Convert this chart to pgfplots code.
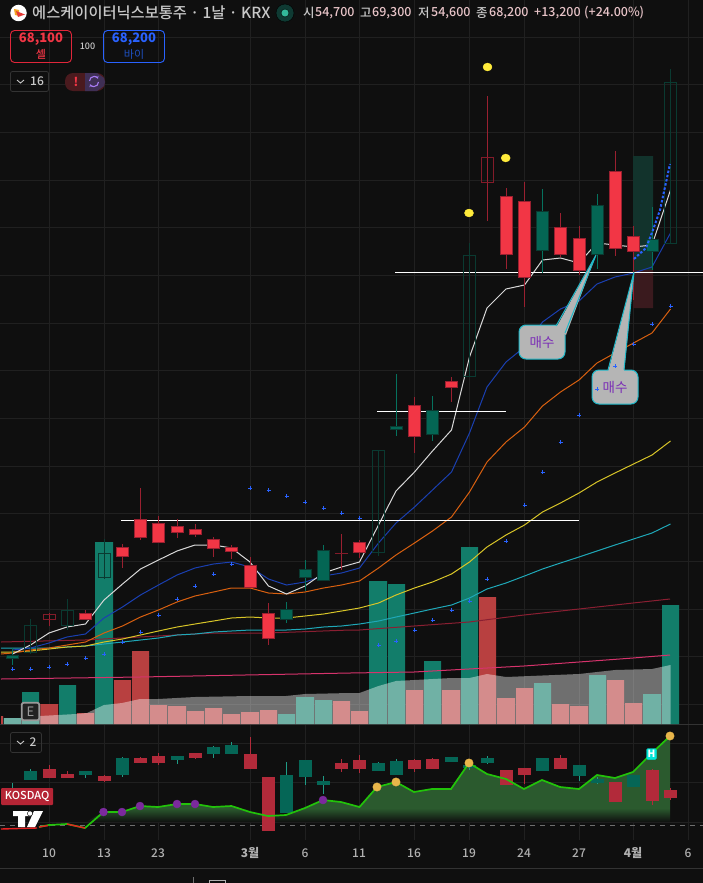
\documentclass[border=0pt]{standalone}
\usepackage{pgfplots}
\pgfplotsset{compat=1.18}
\usetikzlibrary{arrows.meta}
\usepackage{fontspec}
\setmainfont{Noto Sans CJK KR}
\newfontfamily\med{Noto Sans CJK KR}[UprightFont=* Medium]
\definecolor{bg}{HTML}{0F0F0F}
\definecolor{gridc}{HTML}{202020}
\definecolor{upf}{HTML}{F23645}
\definecolor{upe}{HTML}{9A2030}
\definecolor{dnf}{HTML}{046654}
\definecolor{dne}{HTML}{0A3A31}
\definecolor{dnw}{HTML}{05725E}
\definecolor{lr}{HTML}{B22A3A}
\definecolor{lg}{HTML}{056656}
\definecolor{lgw}{HTML}{1F9C86}
\definecolor{volg}{HTML}{127D6A}
\definecolor{volr}{HTML}{B84040}
\definecolor{areag}{HTML}{2B5A2E}
\definecolor{txtc}{HTML}{C8C8C8}
\definecolor{pnk}{HTML}{E8C4C8}
\definecolor{tickc}{HTML}{B0B0B0}
\definecolor{cal}{HTML}{B5B5B5}
\definecolor{calb}{HTML}{1FB8C8}
\definecolor{calt}{HTML}{7B2FB5}
\definecolor{HTMLteal}{HTML}{12332C}
\definecolor{HTMLmar}{HTML}{3A1A1E}
\definecolor{HTMLdr}{HTML}{8A1F32}
\definecolor{HTMLpk}{HTML}{D6336C}
\definecolor{HTMLcy}{HTML}{1FA8B8}
\definecolor{HTMLye}{HTML}{D8C528}
\definecolor{HTMLor}{HTML}{D9600F}
\definecolor{HTMLbl}{HTML}{1A3FB0}
\definecolor{HTMLwh}{HTML}{D8D8D8}
\definecolor{HTMLcr}{HTML}{2962FF}
\definecolor{HTMLbd}{HTML}{2962FF}
\definecolor{HTMLyd}{HTML}{FFEB3B}
\definecolor{HTMLdg}{HTML}{6E6E6E}
\definecolor{HTMLgl}{HTML}{22C30A}
\definecolor{HTMLrl}{HTML}{E62222}
\definecolor{HTMLpd}{HTML}{7B2A9D}
\definecolor{HTMLod}{HTML}{E8B54A}
\definecolor{HTMLhb}{HTML}{00E5D8}
\definecolor{HTMLkq}{HTML}{B52535}
\definecolor{HTMLeb}{HTML}{222222}
\definecolor{HTMLeg}{HTML}{9A9A9A}
\definecolor{HTMLoo}{HTML}{F5A623}
\definecolor{HTMLrd}{HTML}{E53935}
\definecolor{HTMLsd}{HTML}{0F3A33}
\definecolor{HTMLsg}{HTML}{33B89A}
\definecolor{HTMLbr}{HTML}{E0263A}
\definecolor{HTMLbu}{HTML}{2962FF}
\definecolor{HTMLbv}{HTML}{1E50C0}
\definecolor{HTMLbx}{HTML}{333333}
\definecolor{HTMLp1}{HTML}{4A1A1E}
\definecolor{HTMLp2}{HTML}{3F2F55}
\definecolor{HTMLp3}{HTML}{A77BF3}
\pgfdeclareverticalshading{areafade}{100bp}{color(0bp)=(bg); color(25bp)=(bg); color(33bp)=(areag); color(100bp)=(areag)}
% candle: x, high, low, top, bottom
\newcommand\candle[8]{%
 \pgfmathsetmacro\xl{#1-#8}\pgfmathsetmacro\xr{#1+#8}%
 \edef\temp{\noexpand\addplot[#7,line width=1pt] coordinates {(#1,#2)(#1,#3)};
  \noexpand\addplot[#6,line width=1pt] coordinates {(\xl,#4)(\xr,#4)(\xr,#5)(\xl,#5)(\xl,#4)};}\temp}
\newcommand\Cr[5]{\candle{#1}{#2}{#3}{#4}{#5}{fill=upf,draw=upe}{upe}{6}}
\newcommand\Cg[5]{\candle{#1}{#2}{#3}{#4}{#5}{fill=dnf,draw=dne}{dnw}{6}}
\newcommand\Hr[5]{\candle{#1}{#2}{#3}{#4}{#5}{draw=upe!85!black}{upe}{6}}
\newcommand\Hg[5]{\candle{#1}{#2}{#3}{#4}{#5}{draw=dne}{dne}{6}}
\newcommand\Lr[5]{\candle{#1}{#2}{#3}{#4}{#5}{fill=lr,draw=lr}{lr}{6}}
\newcommand\Lg[5]{\candle{#1}{#2}{#3}{#4}{#5}{fill=lg,draw=lg}{lgw}{6}}
% volume bar: x-left, x-right, top
\newcommand\V[4]{\addplot[fill=#4,draw=none] coordinates {(#1,#3)(#2,#3)(#2,724)(#1,724)(#1,#3)};}
\newcommand\Poly[2]{\addplot[#1] coordinates {#2};}
\newcommand\T[5][]{\node[text=#2,anchor=#3,inner sep=0pt,#1] at (axis cs:#4) {#5};}
\begin{document}
\begin{tikzpicture}
\begin{axis}[scale only axis,width=703pt,height=883pt,
 xmin=0,xmax=703,ymin=0,ymax=883,y dir=reverse,
 axis lines=none,ticks=none,clip=true,
 every axis plot/.append style={mark=none}]
% background
\Poly{fill=bg,draw=none}{(0,0)(703,0)(703,883)(0,883)(0,0)}
% grid
\pgfplotsinvokeforeach{37,84,132,180,227,275,323,370,418,466,513,561,609,656,704,743,782,822}{
 \addplot[gridc,line width=.8pt] coordinates {(0,#1)(703,#1)};}
\pgfplotsinvokeforeach{49,104,158,250,305,359,414,469,524,579,633,688}{
 \addplot[gridc,line width=.8pt] coordinates {(#1,0)(#1,724)};
 \addplot[gridc,line width=.8pt] coordinates {(#1,725)(#1,840)};}
\addplot[HTMLbx,line width=.8pt] coordinates {(0,724.5)(703,724.5)};
\addplot[HTMLbx,line width=.8pt] coordinates {(0,868)(703,868)};
% long position boxes
\Poly{fill=HTMLteal,draw=none}{(633,156)(653,156)(653,270)(633,270)(633,156)}
\Poly{fill=HTMLmar,draw=none}{(633,270)(653,270)(653,308)(633,308)(633,270)}
% volume bars
\V{1}{3}{716}{volr}
\V{3.7}{21}{718}{volg}\V{22}{39}{692}{volg}\V{40.3}{58}{704}{volr}\V{59}{76}{685}{volg}
\V{77}{94}{713}{volr}\V{95}{113}{542}{volg}\V{114}{131}{680}{volr}\V{132}{149}{651}{volr}
\V{150}{167}{705}{volr}\V{168}{186}{706}{volr}\V{187}{204}{711}{volr}\V{205}{222}{708}{volr}
\V{223}{240}{714}{volr}\V{241}{259}{712}{volr}\V{260}{277}{710}{volr}\V{278}{295}{714}{volg}
\V{296}{314}{697}{volg}\V{315}{332}{700}{volg}\V{333}{350}{701}{volr}\V{351}{368}{711}{volr}
\V{369}{387}{581}{volg}\V{388}{405}{584}{volg}\V{406}{423}{690}{volr}\V{424}{441}{661}{volg}
\V{442}{460}{690}{volr}\V{461}{478}{547}{volg}\V{479}{496}{597}{volr}\V{497}{515}{698}{volr}
\V{516}{533}{688}{volr}\V{534}{551}{683}{volg}\V{552}{569}{704}{volr}\V{570}{588}{706}{volr}
\V{589}{606}{675}{volg}\V{607}{624}{680}{volr}\V{625}{642}{703}{volr}\V{643}{661}{694}{volg}
\V{662}{679}{605}{volg}
% volume moving-average area
\addplot[fill=white,fill opacity=.40,draw=none] coordinates {(4,718)(30,718)(40,716)(58,715)(76,714)(87,713)(104,705)(122,703)(140,699)(158,699)(195,697)(250,696)(286,696)(305,694)(350,693)(359.5,693)(378.5,686)(396,681)(414.5,680)(451.5,678)(469.5,678)(487,674)(506,677)(579,674)(597,672)(615,670)(652,669)(670.5,665)(670.5,724)(4,724)(4,718)};
% long moving averages
\addplot[HTMLdr,line width=1pt] coordinates {(1,642)(85,640)(140,637)(213,633)(268,633)(350,630)(359.5,630)(414,626)(469,622)(524,615)(579,609)(633,603)(670,599)};
\addplot[HTMLpk,line width=1pt] coordinates {(1,679)(140,677)(350,673)(414,672)(469,669)(524,666)(579,662)(633,658)(670,655)};
\addplot[HTMLcy,line width=1pt] coordinates {(1,648)(30.5,648)(49,648)(67,647)(85.5,646)(104,644)(122.5,642)(140.5,640)(158.5,638)(177,635)(195,634)(213.5,632)(231.5,631)(250,630)(268.5,630)(286.5,630)(305,629)(323.5,627)(341.5,626)(359.5,624)(378.5,621)(396,617)(414.5,613)(432.5,609)(451.5,605)(469.5,598)(487,589)(506,583)(524.5,576)(542.5,569)(560.5,563)(579,557)(597,551)(615,545)(633.5,539)(652,533)(670.5,524)};
\addplot[HTMLye,line width=1pt] coordinates {(1,652)(12.5,652)(30.5,651)(49,649)(67,647)(85.5,646)(104,642)(122.5,639)(140.5,635)(158.5,631)(177,627)(195,624)(213.5,621)(231.5,618)(250,617)(268.5,618)(286.5,618)(305,616)(323.5,614)(341.5,611)(359.5,608)(378.5,603)(396,595)(414.5,588)(432.5,582)(451.5,574)(469.5,562)(487,547)(506,535)(524.5,525)(542.5,512)(560.5,503)(579,493)(597,482)(615,473)(633.5,464)(652,455)(670.5,441)};
\addplot[HTMLor,line width=1pt] coordinates {(1,654)(12.5,653)(30.5,650)(49,648)(67,645)(85.5,642)(104,633)(122.5,626)(140.5,617)(158.5,610)(177,602)(195,596)(213.5,592)(231.5,588)(250,588)(268.5,593)(286.5,594)(305,592)(323.5,588)(341.5,585)(359.5,581)(378.5,568)(396,555)(414.5,543)(432.5,531)(451.5,517)(469.5,492)(487,462)(506,442)(524.5,427)(542.5,406)(560.5,392)(579,380)(597,363)(615,353)(633.5,343)(652,333)(670.5,309)};
\addplot[HTMLbl,line width=1pt] coordinates {(12.5,650)(30.5,648)(49,643)(67,637)(85.5,634)(104,618)(122.5,607)(140.5,595)(158.5,585)(177,575)(195,568)(213.5,564)(231.5,562)(250,567)(268.5,579)(286.5,585)(305,582)(323.5,576)(341.5,573)(359.5,568)(378.5,543)(396,523)(414.5,507)(432.5,490)(451.5,472)(469.5,433)(487,387)(506,362)(524.5,347)(542.5,322)(560.5,309)(579,301)(597,284)(615,277)(633.5,273)(652,267)(670.5,233)};
\addplot[HTMLwh,line width=1pt] coordinates {(12.5,654)(30.5,645)(49,633)(67,627)(85.5,624)(104,600)(122.5,584)(140.5,569)(158.5,560)(177,551)(195,545)(213.5,545)(231.5,548)(250,562)(268.5,586)(286.5,594)(305,586)(323.5,573)(341.5,567)(359.5,562)(378.5,525)(396,491)(414.5,472)(432.5,451)(451.5,430)(469.5,357)(487,308)(506,289)(524.5,285)(542.5,260)(560.5,258)(579,263)(597,243)(615,245)(633.5,247)(652,245)(670.5,190)};
% blue crosses
\addplot[only marks,mark=+,mark size=2pt,color=HTMLcr,mark options={line width=1pt,draw=HTMLcr}] coordinates {(12.5,669)(30.5,669)(49,667)(67,664)(85.5,658)(104,654)(122.5,642)(140.5,632)(158.5,615)(177,599)(195,586)(213.5,574)(231.5,564)(250,488)(268.5,490)(286.5,496)(305,502)(323.5,508)(341.5,513)(359.5,518)(378.5,645)(396,641)(414.5,630)(432.5,620)(451.5,610)(469.5,601)(487,579)(506,541)(524.5,505)(542.5,472)(560.5,442)(579,415)(597,389)(615,366)(633.5,344)(652,324)(670.5,306)};
% horizontal levels
\addplot[white,line width=1pt] coordinates {(395,272)(703,272)};
\addplot[white,line width=1pt] coordinates {(377,411)(506,411)};
\addplot[white,line width=1pt] coordinates {(121,520)(579,520)};
% price candles
\Cg{12.5}{648}{665}{655.5}{658.5}
\Hg{30.5}{619}{654}{625}{652}
\Hr{49}{613}{626}{614}{619}
\Hg{67}{599}{630}{610}{625}
\Cr{85.5}{610}{619}{613}{619}
\Hg{104}{539}{579}{553}{577}
\Cr{122.5}{544}{568}{547}{556}
\Cr{140.5}{488}{540}{519}{537}
\Cr{158.5}{516}{542}{523}{542}
\Cr{177}{519}{538}{526}{532}
\Cr{195}{524}{537}{529}{534}
\Cr{213.5}{537}{557}{539}{548}
\Cr{231.5}{545}{559}{547}{551}
\Cr{250}{557}{587}{565}{587}
\Cr{268.5}{603}{645}{613}{638}
\Cg{286.5}{602}{623}{609}{619}
\Cg{305}{560}{591}{569}{577}
\Cg{323.5}{545}{580}{550}{580}
\Hr{341.5}{534}{570}{553}{553.5}
\Cr{359.5}{540}{558}{542}{552}
\Hg{378.5}{450}{556}{450}{552}
\Cg{396}{374}{436}{426}{429}
\Cr{414.5}{397}{453}{405}{436}
\Cg{432.5}{396}{441}{410}{434}
\Cr{451.5}{377}{402}{381}{387}
\Hg{469.5}{243}{376}{255}{376}
\Hr{487.5}{96}{221}{157}{182}
\Cr{506}{188}{269}{196}{254}
\Cr{524.5}{182}{307}{201}{277}
\Cg{542.5}{189}{273}{211}{250}
\Cr{560.5}{213}{257}{227}{254}
\Cr{579}{226}{275}{238}{270}
\Cg{597}{194}{269}{205}{254}
\Cr{615}{151}{256}{171}{248}
\Cr{633.5}{226}{300}{236}{251}
\Cg{652}{207}{270}{239}{251}
\Hg{670.5}{69}{243}{82}{243}
% dotted forecast
\addplot[HTMLbd,line width=2pt,dash pattern=on 2.5pt off 1.8pt] coordinates {(634,259)(646,248)(653,230)(660,210)(665,187)(670,164)};
% yellow dots
\addplot[only marks,mark=*,mark size=4.5pt,color=HTMLyd,mark options={yscale=.88,draw=none,fill=HTMLyd}] coordinates {(487.5,67)(505.7,158)(469,213)};
% callouts
\node[fill=cal,draw=calb,line width=1pt,rounded corners=7pt,minimum width=46pt,minimum height=34pt,inner sep=0pt,text=calt] at (axis cs:542,342) {\fontsize{13.5}{14}\selectfont 매수};
\node[fill=cal,draw=calb,line width=1pt,rounded corners=7pt,minimum width=46pt,minimum height=34pt,inner sep=0pt,text=calt] at (axis cs:615,387) {\fontsize{13.5}{14}\selectfont 매수};
\Poly{fill=cal,draw=none}{(556,328)(596,255)(566,335)(556,328)}
\Poly{calb,line width=1pt}{(556,326)(596,255)(565,333)}
\Poly{fill=cal,draw=none}{(608,372)(634,272)(624,372)(608,372)}
\Poly{calb,line width=1pt}{(608,370)(634,272)(624,370)}
% lower panel: dashed base line and area
\addplot[HTMLdg,line width=.9pt,dash pattern=on 5pt off 5pt] coordinates {(0,825)(703,825)};
\addplot[draw=none,shade,shading=areafade] coordinates {(86,822)(103.5,812)(122,812)(140,806)(158,807)(177,804)(195,804)(213,807)(231.5,806)(250,812)(268,816)(286,815)(305,808)(323,800)(341,802)(359.5,807)(377,787)(396,782)(414,792)(432,789)(451,789)(469,763)(487,774)(506,779)(524,789)(542,780)(560,787)(579,789)(597,775)(615,778)(633,772)(651,754)(670,736)(670,822)(86,822)};
% index candles
\Lg{12.5}{783}{800}{790}{800}
\Lg{30.5}{769}{779}{771}{779}
\Lr{49}{765}{778}{769}{777}
\Lr{67}{771}{778}{774.3}{777}
\Lg{85.5}{771}{778}{771}{774}
\Lr{104}{775}{782}{776}{780}
\Lg{122.5}{757}{777}{758}{774}
\Lr{140.5}{757}{763}{758}{762}
\Lr{158.5}{753}{765}{756}{762}
\Lg{177}{756}{764}{756}{759}
\Lr{195}{753}{759}{753}{757}
\Lg{213.5}{746}{758}{747}{753}
\Lg{231.5}{742}{753}{745}{753}
\Lr{250}{737}{768}{754}{768}
\Lr{268.5}{777}{830}{777}{830}
\Lg{286.5}{762}{812}{775}{812}
\Lg{305}{760}{785}{760}{776}
\Lg{323.5}{776}{794}{781}{784}
\Lr{341.5}{759}{772}{763}{768}
\Lr{359.5}{755}{773}{760}{768}
\Lg{378.5}{762}{771}{763}{770}
\Lg{396}{759}{774}{761}{774}
\Lr{414.5}{759}{772}{760}{768}
\Lr{432.5}{758}{768}{759}{768}
\Lg{451.5}{757}{762}{757}{761}
\Lg{469.5}{761}{770}{765}{767}
\Lg{487}{756}{764}{758}{762}
\Lr{506}{770}{784}{770}{784}
\Lr{524.5}{768}{784}{768}{774}
\Lg{542.5}{758}{770}{758}{770}
\Lr{560.5}{755}{768}{758}{768}
\Lg{579}{765}{781}{765}{775}
\Lg{597}{777}{784}{779}{782}
\Lr{615}{782}{801}{782}{801}
\Lg{633.5}{775}{786}{775}{786}
\Lr{652}{769}{805}{770}{800}
\Lr{670.5}{788}{800}{790}{797}
% index line
\addplot[HTMLgl,line width=1.7pt] coordinates {(39,827)(49,825)(67,824)(85,828)(103.5,812)(122,812)(140,806)(158,807)(177,804)(195,804)(213,807)(231.5,806)(250,812)(268,816)(286,815)(305,808)(323,800)(341,802)(359.5,807)(377,787)(396,782)(414,792)(432,789)(451,789)(469,763)(487,774)(506,779)(524,789)(542,780)(560,787)(579,789)(597,775)(615,778)(633,772)(651,754)(670,736)};
\addplot[HTMLrl,line width=1.4pt] coordinates {(1,829)(37,828)};
\addplot[HTMLrl,line width=1.4pt] coordinates {(39,827)(48,825.5)};
\addplot[HTMLrl,line width=1.4pt] coordinates {(67,824)(85,828)};
% index dots
\addplot[only marks,mark=*,mark size=4pt,mark options={draw=HTMLpd,fill=HTMLpd}] coordinates {(103.5,812)(122,812)(140,806)(177,804)(195,804)(323,800)};
\addplot[only marks,mark=*,mark size=4.2pt,mark options={draw=HTMLod,fill=HTMLod}] coordinates {(377,787)(396,782)(469,763)(670,736)};
% H badge
\node[fill=HTMLhb,draw=HTMLhb,rounded corners=1.5pt,minimum width=10pt,minimum height=11pt,inner sep=0pt,text=white] at (axis cs:651.5,754) {\fontsize{10}{10}\selectfont\bfseries H};
% KOSDAQ badge
\node[fill=HTMLkq,rounded corners=1pt,minimum width=52pt,minimum height=17pt,inner sep=0pt,text=white,anchor=west] at (axis cs:1,796.5) {\fontsize{11}{11}\selectfont\med KOSDAQ};
% TradingView logo
\Poly{fill=white,draw=none}{(13,811)(30,811)(30,816)(25,816)(25,827)(18,827)(18,816)(13,816)(13,811)}
\Poly{fill=white,draw=none}{(34,811)(43,811)(35,827)(27,827)(34,811)}
\addplot[only marks,mark=*,mark size=2.6pt,mark options={draw=none,fill=white}] coordinates {(30,813.5)};
% E badge
\node[fill=HTMLeb,draw=HTMLeg,line width=1.8pt,rounded corners=2pt,minimum width=17.5pt,minimum height=17.5pt,inner sep=0pt,text=HTMLeg] at (axis cs:30.5,711.5) {\fontsize{13}{13}\selectfont E};
% header
\node[fill=white,circle,minimum size=16.5pt,inner sep=0pt] at (axis cs:18.5,13) {};
\Poly{fill=HTMLoo,draw=none}{(14,9)(19,10)(19,16)(15,15)(14,9)}
\Poly{fill=HTMLrd,draw=none}{(16,11)(25,14.5)(18,17)(16,11)}
\T{txtc}{west}{32,13}{\fontsize{15.3}{15}\selectfont\med 에스케이이터닉스보통주 · 1날 · KRX}
\addplot[only marks,mark=*,mark size=9pt,mark options={draw=none,fill=HTMLsd}] coordinates {(285,13)};
\addplot[only marks,mark=*,mark size=4pt,mark options={draw=none,fill=HTMLsg}] coordinates {(285,13)};
\T{txtc}{west}{303,13}{\fontsize{12.5}{13}\selectfont\med 시}
\T{pnk}{west}{315,13}{\fontsize{12.5}{13}\selectfont\med 54,700}
\T{txtc}{west}{360,13}{\fontsize{12.5}{13}\selectfont\med 고}
\T{pnk}{west}{372,13}{\fontsize{12.5}{13}\selectfont\med 69,300}
\T{txtc}{west}{418,13}{\fontsize{12.5}{13}\selectfont\med 저}
\T{pnk}{west}{431,13}{\fontsize{12.5}{13}\selectfont\med 54,600}
\T{txtc}{west}{476,13}{\fontsize{12.5}{13}\selectfont\med 종}
\T{pnk}{west}{489,13}{\fontsize{12.5}{13}\selectfont\med 68,200}
\T{pnk}{west}{534,13}{\fontsize{12.5}{13}\selectfont\med +13,200}
\T{pnk}{west}{584,13}{\fontsize{12.5}{13}\selectfont\med (+24.00\%)}
% buttons
\node[draw=HTMLbr,line width=.9pt,rounded corners=4pt,minimum width=61pt,minimum height=32pt,inner sep=0pt] at (axis cs:41,46.5) {};
\T[font=\bfseries]{upf}{center}{41,39.5}{\fontsize{13}{13}\selectfont 68,100}
\T{upf}{center}{41,54}{\fontsize{11}{11}\selectfont\med 셀}
\T{txtc}{center}{87.5,46}{\fontsize{9}{9}\selectfont\med 100}
\node[draw=HTMLbu,line width=.9pt,rounded corners=4pt,minimum width=61pt,minimum height=32pt,inner sep=0pt] at (axis cs:134,46.5) {};
\T[font=\bfseries]{HTMLbu}{center}{134,39.5}{\fontsize{13}{13}\selectfont 68,200}
\T{HTMLbv}{center}{134,54}{\fontsize{11}{11}\selectfont 바이}
% collapse boxes
\node[draw=HTMLbx,line width=.8pt,rounded corners=2pt,minimum width=38pt,minimum height=20pt,inner sep=0pt] at (axis cs:29.5,81.5) {};
\Poly{txtc,line width=.9pt}{(17,80)(20.5,83)(24,80)}
\T{txtc}{center}{37,81}{\fontsize{12}{12}\selectfont\med 16}
\node[draw=HTMLbx,line width=.8pt,rounded corners=2pt,minimum width=31pt,minimum height=20pt,inner sep=0pt] at (axis cs:26,742.5) {};
\Poly{txtc,line width=.9pt}{(17,741)(20.5,744)(24,741)}
\T{txtc}{center}{33,742}{\fontsize{12}{12}\selectfont\med 2}
% alert pill
\node[fill=HTMLp1,rounded corners=8pt,minimum width=40pt,minimum height=18pt,inner sep=0pt] at (axis cs:85,82) {};
\Poly{fill=HTMLp2,draw=none}{(85,73)(97,73)(104,78)(105,82)(104,86)(97,91)(85,91)(85,73)}
\T[font=\bfseries]{upf}{center}{76,81.5}{\fontsize{12}{12}\selectfont !}
\draw[HTMLp3,line width=1.1pt,-{Stealth[length=2.5pt,width=3.5pt]}] (axis cs:89.5,81) arc[start angle=180,end angle=30,radius=4.6pt];
\draw[HTMLp3,line width=1.1pt,-{Stealth[length=2.5pt,width=3.5pt]}] (axis cs:98.5,82) arc[start angle=0,end angle=-150,radius=4.6pt];
% time axis
\T{tickc}{center}{49,853}{\fontsize{12}{12}\selectfont\med 10}
\T{tickc}{center}{104,853}{\fontsize{12}{12}\selectfont\med 13}
\T{tickc}{center}{158,853}{\fontsize{12}{12}\selectfont\med 23}
\T[font=\bfseries]{tickc}{center}{250,853}{\fontsize{12}{12}\selectfont 3월}
\T{tickc}{center}{305,853}{\fontsize{12}{12}\selectfont\med 6}
\T{tickc}{center}{359,853}{\fontsize{12}{12}\selectfont\med 11}
\T{tickc}{center}{414,853}{\fontsize{12}{12}\selectfont\med 16}
\T{tickc}{center}{469,853}{\fontsize{12}{12}\selectfont\med 19}
\T{tickc}{center}{524,853}{\fontsize{12}{12}\selectfont\med 24}
\T{tickc}{center}{579,853}{\fontsize{12}{12}\selectfont\med 27}
\T[font=\bfseries]{tickc}{center}{633,853}{\fontsize{12}{12}\selectfont 4월}
\T{tickc}{center}{688,853}{\fontsize{12}{12}\selectfont\med 6}
% bottom toolbar hints
\addplot[HTMLdg,line width=.8pt] coordinates {(193.5,877)(193.5,883)};
\Poly{tickc,line width=.9pt}{(209,883)(209,880)(225,880)(225,883)}
\end{axis}
\end{tikzpicture}
\end{document}
